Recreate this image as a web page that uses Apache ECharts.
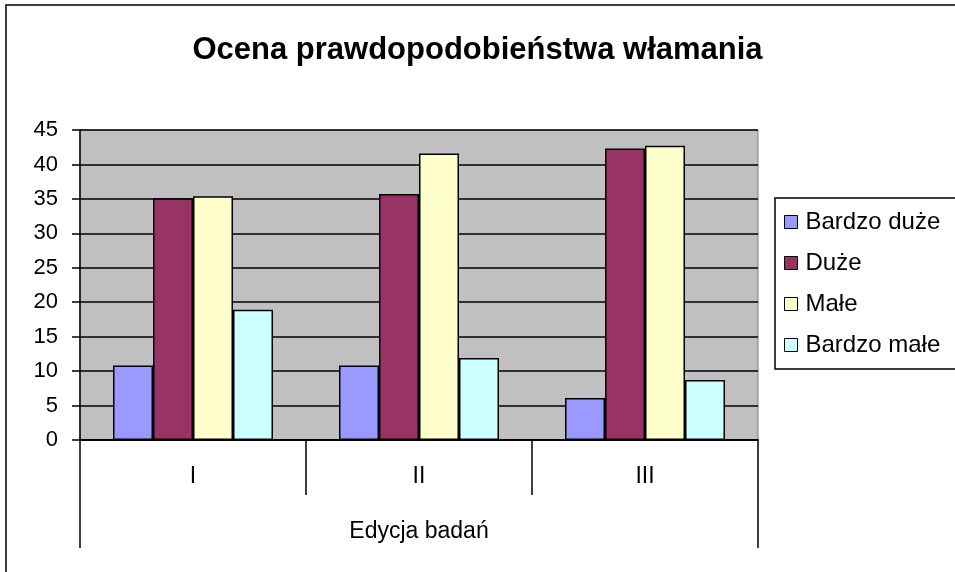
<!DOCTYPE html>
<html>
<head>
<meta charset="utf-8">
<script src="https://cdn.jsdelivr.net/npm/echarts@6/dist/echarts.min.js"></script>
<style>
  html, body { margin: 0; padding: 0; background: #fff; }
  #chart { width: 955px; height: 572px; }
</style>
</head>
<body>
<div id="chart"></div>
<script>
// data
const editions = ['I', 'II', 'III'];
const groupLabel = ['Edycja badań'];
const bardzoDuze = [10.8, 10.8, 6.1];
const duze = [35.1, 35.7, 42.3];
const male = [35.4, 41.6, 42.7];
const bardzoMale = [18.9, 11.9, 8.7];

const font = 'Liberation Sans, Arial, sans-serif';
const myChart = echarts.init(document.getElementById('chart'));

function bar(name, data, color) {
  return {
    name: name,
    type: 'bar',
    data: data,
    barWidth: 40,
    barGap: '0%',
    itemStyle: { color: color, borderColor: '#000', borderWidth: 1.5 }
  };
}

const option = {
  animation: false,
  backgroundColor: '#fff',
  textStyle: { fontFamily: font },
  title: {
    text: 'Ocena prawdopodobieństwa włamania',
    left: 'center',
    top: 30,
    textStyle: { fontSize: 31, fontWeight: 'bold', color: '#000', fontFamily: font }
  },
  graphic: [{
    type: 'rect',
    shape: { x: 6, y: 5, width: 1000, height: 1000 },
    style: { fill: 'none', stroke: '#000', lineWidth: 1.5 },
    silent: true
  }],
  legend: {
    orient: 'vertical',
    left: 775,
    top: 198,
    padding: [12, 20, 12, 9],
    itemGap: 17,
    itemWidth: 13,
    itemHeight: 13,
    icon: 'rect',
    borderColor: '#000',
    borderWidth: 1.5,
    itemStyle: { borderColor: '#000', borderWidth: 1 },
    textStyle: { fontSize: 24, lineHeight: 24, color: '#000', fontFamily: font, padding: [0, 0, 0, 3] }
  },
  grid: {
    left: 80,
    top: 130,
    right: 197,
    bottom: 132,
    show: true,
    backgroundColor: '#C0C0C0',
    borderColor: '#808080',
    borderWidth: 1
  },
  xAxis: [{
    type: 'category',
    data: editions,
    position: 'bottom',
    axisLine: { lineStyle: { color: '#000', width: 1.5 } },
    axisTick: { show: true, length: 55, lineStyle: { color: '#000', width: 1.5 } },
    axisLabel: { fontSize: 23, color: '#000', margin: 25, fontFamily: font }
  }, {
    type: 'category',
    data: groupLabel,
    position: 'bottom',
    axisLine: { lineStyle: { color: '#000', width: 1.5 } },
    axisTick: { show: true, length: 108, lineStyle: { color: '#000', width: 1.5 } },
    axisLabel: { fontSize: 23, color: '#000', margin: 80, fontFamily: font }
  }],
  yAxis: {
    type: 'value',
    min: 0,
    max: 45,
    interval: 5,
    axisLine: { show: true, lineStyle: { color: '#000', width: 1.5 } },
    axisTick: { show: true, length: 8, lineStyle: { color: '#000', width: 1.5 } },
    axisLabel: { fontSize: 22, color: '#000', margin: 22, fontFamily: font },
    splitLine: { lineStyle: { color: '#000', width: 1.5 } }
  },
  series: [
    bar('Bardzo duże', bardzoDuze, '#9999FF'),
    bar('Duże', duze, '#993366'),
    bar('Małe', male, '#FFFFCC'),
    bar('Bardzo małe', bardzoMale, '#CCFFFF')
  ]
};

myChart.setOption(option);
</script>
</body>
</html>
